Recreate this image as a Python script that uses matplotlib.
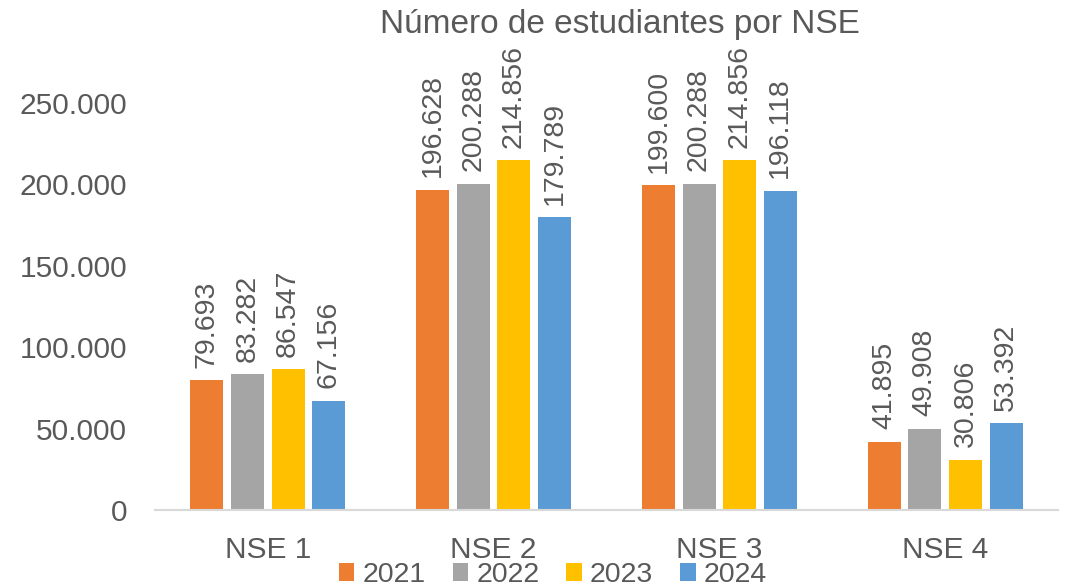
import matplotlib
matplotlib.use('Agg')
import matplotlib.pyplot as plt
import numpy as np

# Data
categories = ['NSE 1', 'NSE 2', 'NSE 3', 'NSE 4']
years = ['2021', '2022', '2023', '2024']
values = {
    '2021': [79693, 196628, 199600, 41895],
    '2022': [83282, 200288, 200288, 49908],
    '2023': [86547, 214856, 214856, 30806],
    '2024': [67156, 179789, 196118, 53392],
}
colors = ['#ED7D31', '#A5A5A5', '#FFC000', '#5B9BD5']

plt.rcParams['font.family'] = ['Liberation Sans', 'DejaVu Sans']
text_color = '#595959'


def fmt(v):
    return f'{v:,}'.replace(',', '.')


fig = plt.figure(figsize=(10.66, 5.88), dpi=100)
ax = fig.add_axes([155 / 1066, 1 - 510 / 588, 903 / 1066, 407 / 588])

x = np.arange(len(categories))
width = 0.146
pitch = 0.18
for i, (year, color) in enumerate(zip(years, colors)):
    offs = (i - 1.5) * pitch
    bars = ax.bar(x + offs, values[year], width, color=color, label=year)
    for b, v in zip(bars, values[year]):
        ax.annotate(fmt(v), (b.get_x() + b.get_width() / 2, v),
                    xytext=(0, 9), textcoords='offset points',
                    rotation=90, ha='center', va='bottom', fontsize=20.5,
                    color=text_color, annotation_clip=False)

ax.set_xlim(-0.5, 3.5)
ax.set_ylim(0, 250000)
ax.set_yticks(np.arange(0, 250001, 50000))
ax.set_yticklabels([fmt(v) for v in range(0, 250001, 50000)])
ax.set_xticks(x)
ax.set_xticklabels(categories)
ax.tick_params(axis='both', length=0, colors=text_color)
ax.tick_params(axis='y', pad=20, labelsize=21.5)
ax.tick_params(axis='x', pad=19, labelsize=21.5)

for s in ['top', 'right', 'left']:
    ax.spines[s].set_visible(False)
ax.spines['bottom'].set_color('#D9D9D9')
ax.spines['bottom'].set_linewidth(1.5)

fig.text(620 / 1066, 1 - 24 / 588, 'Número de estudiantes por NSE',
         ha='center', va='center', fontsize=24, color=text_color)

leg = fig.legend(loc='center', bbox_to_anchor=(553 / 1066, 1 - 575 / 588),
                 ncol=4, frameon=False, fontsize=20.5, handlelength=0.55,
                 handleheight=0.55, handletextpad=0.28, columnspacing=0.95,
                 borderpad=0, borderaxespad=0)
for t in leg.get_texts():
    t.set_color(text_color)

fig.savefig('out.png', dpi=100)
